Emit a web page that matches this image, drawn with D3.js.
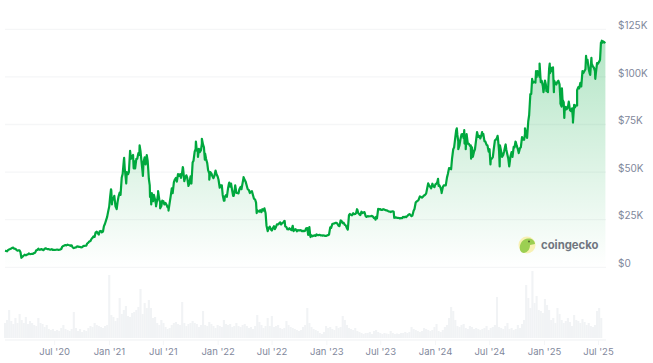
<!DOCTYPE html>
<html><head><meta charset="utf-8">
<script src="https://cdn.jsdelivr.net/npm/d3@7"></script>
<style>html,body{margin:0;background:#fff}svg{display:block}text{font-family:Inter,"Noto Sans",sans-serif}</style>
</head><body><svg id="c" width="653" height="363"></svg>
<script>
const startDate = "2020-01-18";
const endDate = "2025-07-28";
// weekly BTC price, $K
const weeklyPrices = [
8.7,8.4,9.4,9.9,10.3,9.7,8.7,8.9,5.2,6.2,6.3,6.8,6.9,7.1,7.5,8.9,9.8,9.3,9.2,9.7,9.7,9.5,9.3,9.1,9.1,9.3,9.2,9.6,11.3,11.7,11.9,11.6,11.5,10.1,10.4,11.0,10.7,10.6,11.3,11.4,13.0,13.8,15.5,16.0,18.7,17.2,19.1,18.8,23.0,26.5,
32.0,40.2,36.0,32.0,34.3,39.2,47.2,56.0,46.0,48.9,61.2,58.2,55.8,57.0,60.0,61.0,50.0,57.8,58.9,46.5,37.5,34.7,35.5,35.5,35.6,32.2,34.7,33.8,31.5,34.0,41.5,44.6,47.0,49.0,48.9,50.0,45.2,48.3,42.7,47.7,55.0,60.9,61.3,62.2,61.5,64.4,59.7,54.7,49.2,49.3,46.8,50.8,
47.7,41.8,43.1,35.0,37.9,41.6,42.4,40.1,39.2,39.1,38.8,42.2,44.5,45.8,42.7,40.5,39.7,37.7,35.5,30.0,29.2,29.0,29.8,28.4,19.0,21.4,19.3,21.6,21.2,22.5,23.6,23.2,24.4,21.1,19.9,19.8,21.8,19.8,18.9,19.3,19.4,19.1,19.2,20.6,21.1,16.8,16.6,16.5,16.9,17.1,16.8,16.8,16.5,
16.9,21.0,22.7,23.0,23.3,21.8,24.6,23.2,22.3,20.6,27.4,27.5,28.4,28.0,30.3,27.8,29.2,28.8,26.8,26.9,26.8,27.0,25.8,26.5,30.7,30.6,30.2,30.3,29.9,29.3,29.0,29.4,26.1,26.0,25.9,25.9,26.5,26.6,27.0,27.9,26.9,29.7,34.0,35.0,37.2,36.6,37.7,38.7,44.1,42.2,43.9,42.1,
44.0,42.8,41.6,42.0,43.0,47.1,52.1,51.5,62.0,68.3,69.5,64.0,69.9,67.8,67.2,64.9,63.8,63.0,60.8,67.0,68.5,67.7,69.3,66.2,64.3,60.8,56.5,57.9,66.7,68.0,61.0,60.8,59.0,64.0,59.1,54.1,60.5,63.2,65.8,62.1,62.5,68.4,67.0,69.5,76.7,91.0,98.0,97.5,99.9,101.5,97.2,95.1,
98.1,94.7,104.4,104.8,100.6,96.5,97.5,96.1,84.4,86.7,84.3,84.0,82.6,83.5,85.3,85.2,94.6,96.9,103.0,103.2,107.8,104.0,105.7,105.5,103.0,107.3,108.0,117.5,118.6,118.4];
// midweek BTC price, $K (three days after each weekly reading)
const midweekPrices = [
8.6,9,9.6,10.2,9.8,9.2,8.9,7.9,5.6,6.6,6.6,7.3,7,7.1,7.7,9.1,9.2,9.6,9,10,9.5,9.3,9.5,9.2,9.2,9.2,9.3,10.8,11.4,11.5,11.7,11.3,10.5,10.3,10.9,10.7,10.5,11,11.3,12.5,13.5,14.8,16.2,18.2,18,18.9,18.4,21.5,24.5,29,
37,35,37.5,31,37,38,49,52,50,50,57,59,52,57,59,56,55,54,56,43,39,38,33,38.5,34,35,33,33,32,37,39,46,45,48,47,52,47,47,44,44,56,62,62,60.5,65,63,57,51,50,48,48,49,
46,43,38,37,37,44,44,37.5,43,39,41,41,47,45,41,39,40,36,34,29.5,30,30.5,31,22,
20.5,20,20.5,20,22.5,23,22.5,23.5,21.5,20,20.5,19.5,19,20,19.5,19.5,19,19,20.5,17,16.5,16.3,16.8,17.3,16.9,16.7,16.6,16.5,16.7,
17.2,20.7,22.9,23.3,22.9,21.6,24.3,23.4,22,19.8,28,27.3,27.9,28.5,28.5,27.4,28.5,29,26.5,26.7,26.8,26.7,26,25.7,30.3,30.2,30.5,30,29.8,29.3,29.3,29.2,26.2,26,25.7,25.8,26.2,26.3,27.5,27.5,27.2,30.6,34.5,35.5,37,37,38,41,43,41.5,42.5,43.5,
45,43,39.5,43,43,49,52,57,63,72,66,67,70,65,70,65,64,58,62,71,69,69,70,66,64,62,57,62,67,68,64,58,61,62,57,58,58,63,64,60,63,67,70,68,80,91,97,97,103,100,98,93,
96,92,102,103,98,96,98,88,88,82,83,87,82,78,84,85,94,95,102,104,109,102,107,105,102,107,109,118,118];
// daily highs and lows between the weekly readings
const swingDates = ["2020-03-13","2021-01-08","2021-01-11","2021-01-27","2021-02-21","2021-02-28","2021-03-25","2021-04-14","2021-04-25","2021-05-19","2021-05-23","2021-06-08","2021-06-15","2021-06-22","2021-07-20","2021-09-06","2021-10-20","2021-10-27","2021-11-09","2021-11-19","2021-12-04","2022-01-24","2022-02-09","2022-02-24","2022-03-29","2022-05-12","2022-08-14","2022-11-09","2023-04-14","2023-06-15","2023-08-17","2024-01-11","2024-01-23","2024-03-14","2024-03-19","2024-04-08","2024-04-13","2024-05-01","2024-05-21","2024-06-07","2024-07-05","2024-07-29","2024-08-05","2024-08-25","2024-09-06","2024-09-27","2024-10-29","2024-11-22","2024-12-05","2024-12-17","2024-12-30","2025-01-09","2025-01-20","2025-01-31","2025-02-03","2025-02-25","2025-03-02","2025-03-10","2025-04-08","2025-04-22","2025-05-22","2025-06-05","2025-06-09","2025-06-22","2025-07-11","2025-07-14"];
const swingPrices = [5.0,41,33,30.5,57.5,44,52,64,48,37,33,32,40,31,29.8,52.6,66,58,67.5,56.5,46,35,44.5,37.5,47.4,28.5,24.3,15.9,30.5,25,26,46.5,39,73,62,72,62,57,71,71,54,69,53,64.5,53,66,73,99,103,107,92,92.5,107,105,92,86,94,78.5,76,93,111,101,110,99,118,119];
// weekly volume, $B
const weeklyVolume = [
30,36,56,34,28,40,30,48,36,30,42,28,34,30,26,24,40,30,28,22,26,18,16,18,14,16,14,20,26,18,16,14,18,52,20,14,18,12,16,14,20,24,22,30,26,24,22,20,24,26,
126,46,42,34,40,80,48,56,64,44,42,50,52,56,62,98,48,70,60,76,60,40,42,30,26,36,30,22,18,20,26,30,32,28,26,72,30,24,28,30,34,30,28,22,26,54,26,24,32,28,24,20,
26,24,22,36,28,26,28,22,24,30,24,22,26,28,24,20,22,18,24,46,32,26,20,24,40,24,44,22,24,26,20,18,20,34,26,22,20,18,16,14,16,22,26,60,30,22,18,16,14,10,8,
12,24,20,22,18,16,24,20,22,44,36,26,20,18,16,20,14,12,10,8,10,10,12,8,14,16,12,10,8,10,9,8,14,10,8,9,8,10,10,12,10,12,22,18,16,14,12,14,20,18,16,14,
16,22,28,14,12,16,22,26,40,62,54,36,24,22,26,28,20,18,24,22,18,20,18,16,18,20,24,16,20,22,26,82,22,20,18,24,30,18,20,16,18,26,20,28,36,106,80,60,134,70,84,56,
54,50,78,66,56,36,40,30,60,48,36,30,34,40,32,24,46,36,34,30,38,32,26,30,24,22,26,54,60,40];
const priceTicks = [0,25,50,75,100,125];
const priceLabels = ["$0","$25K","$50K","$75K","$100K","$125K"];
const timeTicks = ["2020-07-01","2021-01-01","2021-07-01","2022-01-01","2022-07-01","2023-01-01","2023-07-01","2024-01-01","2024-07-01","2025-01-01","2025-07-01"];
const timeLabels = ["Jul '20","Jan '21","Jul '21","Jan '22","Jul '22","Jan '23","Jul '23","Jan '24","Jul '24","Jan '25","Jul '25"];
const brandName = "coingecko";

const parse = d3.utcParse("%Y-%m-%d");
const t0 = parse(startDate);
const weekly = weeklyPrices.map((v,i)=>({d:d3.utcDay.offset(t0,i*7),v}));
const midweek = midweekPrices.map((v,i)=>({d:d3.utcDay.offset(t0,i*7+3),v}));
const swings = swingDates.map((s,i)=>({d:parse(s),v:swingPrices[i]}));
const series = weekly.concat(midweek,swings).sort((a,b)=>a.d-b.d);
const vols = weeklyVolume.map((v,i)=>({d:d3.utcDay.offset(t0,i*7),v}));

const x = d3.scaleUtc().domain([t0,parse(endDate)]).range([5,606]);
const y = d3.scaleLinear().domain([0,125]).range([267.3,29.3]);
const yv = d3.scaleLinear().domain([0,134]).range([338,271]);

const svg = d3.select("#c");
const grad = svg.append("defs").append("linearGradient").attr("id","g")
  .attr("gradientUnits","userSpaceOnUse").attr("x1",0).attr("x2",0).attr("y1",y(120)).attr("y2",y(0));
grad.append("stop").attr("offset",0).attr("stop-color","#00a83e").attr("stop-opacity",.3);
grad.append("stop").attr("offset",1).attr("stop-color","#00a83e").attr("stop-opacity",0);

// volume
svg.append("g").selectAll("rect").data(vols).join("rect")
  .attr("x",d=>x(d.d)-1.05).attr("width",2.1)
  .attr("y",d=>yv(d.v)).attr("height",d=>yv(0)-yv(d.v)).attr("fill","#f1f3f5");

// grid
const gridColor="#f5f6f7";
svg.append("g").selectAll("line").data(priceTicks).join("line")
  .attr("x1",5).attr("x2",606).attr("y1",d=>y(d)).attr("y2",d=>y(d))
  .attr("stroke",gridColor).attr("stroke-width",1.3);
svg.append("line").attr("x1",5).attr("x2",606).attr("y1",340).attr("y2",340).attr("stroke",gridColor).attr("stroke-width",1.3);

// area + line
svg.append("path").datum(series).attr("fill","url(#g)")
  .attr("d",d3.area().x(d=>x(d.d)).y0(y(0)).y1(d=>y(d.v)));
svg.append("path").datum(series).attr("fill","none").attr("stroke","#00a83e").attr("stroke-width",2.2)
  .attr("stroke-linejoin","round").attr("d",d3.line().x(d=>x(d.d)).y(d=>y(d.v)));

// axes
const yAxis = svg.append("g").attr("transform","translate(618,0)")
  .call(d3.axisRight(y).tickValues(priceTicks).tickFormat((d,i)=>priceLabels[i]).tickSize(0).tickPadding(0));
yAxis.select(".domain").remove();
yAxis.selectAll("text").attr("dy",-0.9).attr("font-size",10).attr("fill","#7f889c").style("font-family","Inter");
const xAxis = svg.append("g").attr("transform","translate(0,340)")
  .call(d3.axisBottom(x).tickValues(timeTicks.map(parse)).tickFormat((d,i)=>timeLabels[i]).tickSize(5).tickPadding(3));
xAxis.select(".domain").remove();
xAxis.selectAll("line").attr("stroke",gridColor);
xAxis.selectAll("text").attr("font-size",9.5).attr("fill","#7f889c").style("font-family","Inter");

// brand
const b = svg.append("g").attr("transform","translate(527,245)");
b.append("circle").attr("r",8.5).attr("fill","#f8f1b4");
b.append("path").attr("d","M-7,5 C-8,-2 -4,-6 1,-6.5 C5,-7 8,-4 8,-1 L3,0 C3,4 1,7 -3,8 C-5,8 -6,7 -7,5 Z").attr("fill","#9ccf52");
b.append("circle").attr("cx",2).attr("cy",-3.5).attr("r",.9).attr("fill","#4a5a2a");
svg.append("text").attr("x",541).attr("y",249).text(brandName)
  .attr("font-size",11.3).attr("font-weight",700).attr("fill","#70767f").style("font-family","Inter");
</script></body></html>
